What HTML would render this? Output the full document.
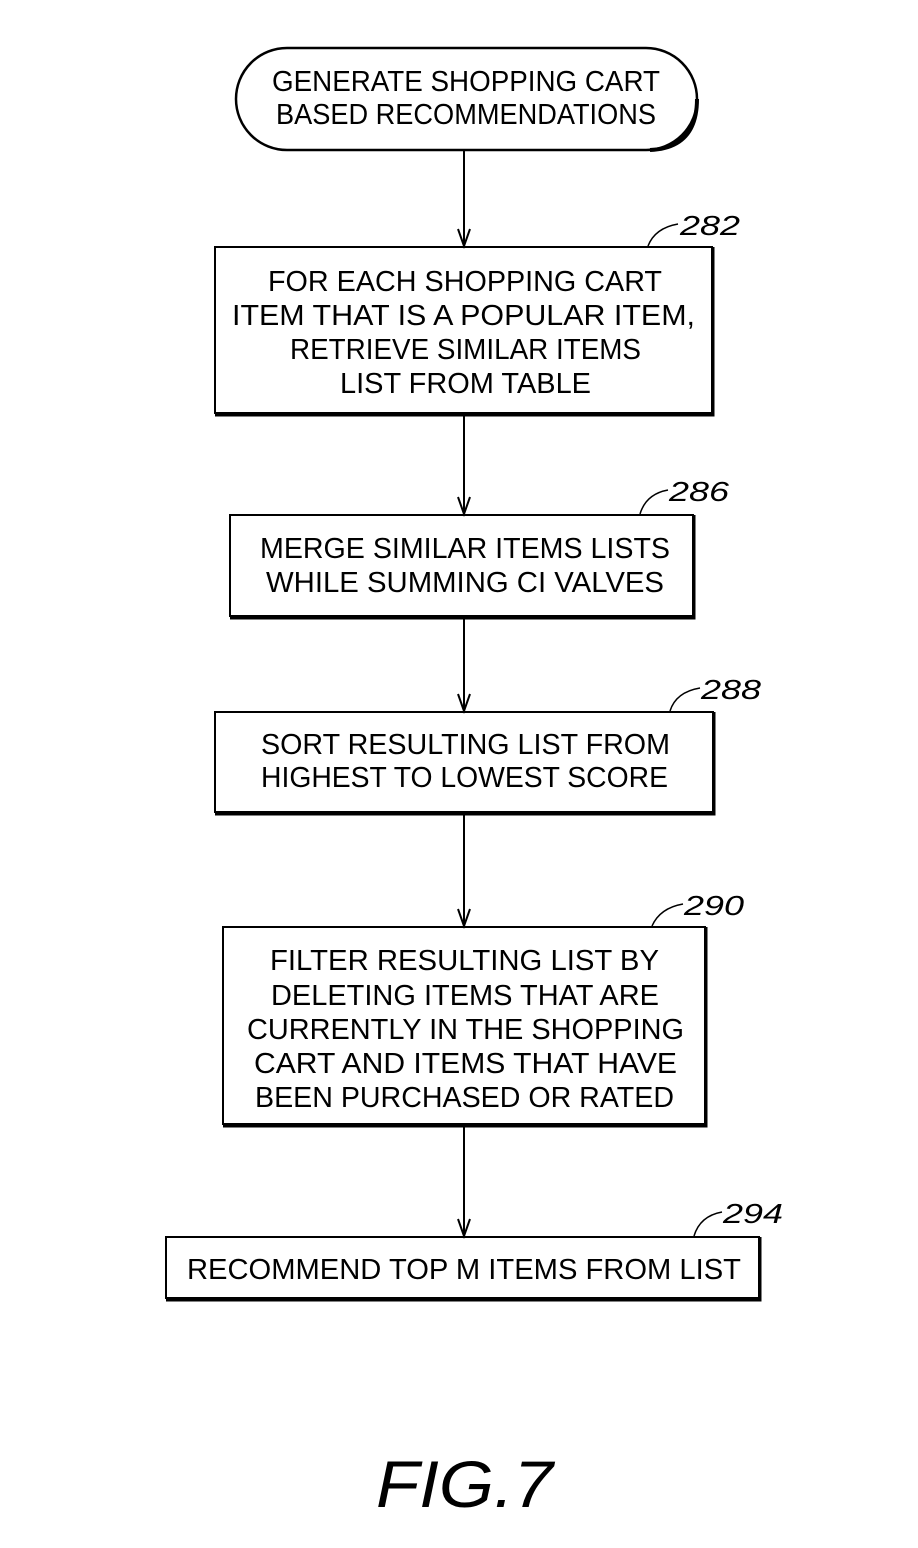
<!DOCTYPE html>
<html><head><meta charset="utf-8"><style>html,body{margin:0;padding:0;background:#fff}</style></head>
<body>
<svg width="918" height="1543" viewBox="0 0 918 1543" xmlns="http://www.w3.org/2000/svg">
<g fill="none" stroke="#000">
<rect x="236" y="48" width="461" height="102" rx="51" stroke-width="2.5"/>
<path d="M697,99 Q697,148 650,150" stroke-width="4"/>
<g stroke-width="2">
<rect x="215" y="247" width="497" height="166"/>
<rect x="230" y="515" width="463" height="101"/>
<rect x="215" y="712" width="498" height="100"/>
<rect x="223" y="927" width="482" height="197"/>
<rect x="166" y="1237" width="593" height="61"/>
</g>
<g stroke-width="3">
<path d="M713,247 V415 H215"/>
<path d="M694,515 V618 H230"/>
<path d="M714,712 V814 H215"/>
<path d="M706,927 V1126 H223"/>
<path d="M760,1237 V1300 H166"/>
</g>
<g stroke-width="2">
<line x1="464" y1="151" x2="464" y2="246"/>
<line x1="464" y1="414" x2="464" y2="514"/>
<line x1="464" y1="617" x2="464" y2="711"/>
<line x1="464" y1="813" x2="464" y2="926"/>
<line x1="464" y1="1125" x2="464" y2="1236"/>
<path d="M458,229 L464,246 L470,229"/>
<path d="M458,497 L464,514 L470,497"/>
<path d="M458,694 L464,711 L470,694"/>
<path d="M458,909 L464,926 L470,909"/>
<path d="M458,1219 L464,1236 L470,1219"/>
</g>
<g stroke-width="1.5">
<path d="M648,246 Q655,228 678,224"/>
<path d="M640,514 Q646,494 668,490"/>
<path d="M670,711 Q676,692 700,688"/>
<path d="M652,926 Q660,908 683,904"/>
<path d="M694,1236 Q700,1216 722,1212"/>
</g>
</g>
<g font-family="Liberation Sans, sans-serif" font-size="29" fill="#000">
<text x="272" y="91" textLength="388" lengthAdjust="spacingAndGlyphs">GENERATE SHOPPING CART</text>
<text x="276" y="124" textLength="380" lengthAdjust="spacingAndGlyphs">BASED RECOMMENDATIONS</text>
<text x="268" y="291" textLength="394" lengthAdjust="spacingAndGlyphs">FOR EACH SHOPPING CART</text>
<text x="232" y="325" textLength="463" lengthAdjust="spacingAndGlyphs">ITEM THAT IS A POPULAR ITEM,</text>
<text x="290" y="359" textLength="351" lengthAdjust="spacingAndGlyphs">RETRIEVE SIMILAR ITEMS</text>
<text x="340" y="393" textLength="251" lengthAdjust="spacingAndGlyphs">LIST FROM TABLE</text>
<text x="260" y="558" textLength="410" lengthAdjust="spacingAndGlyphs">MERGE SIMILAR ITEMS LISTS</text>
<text x="266" y="592" textLength="398" lengthAdjust="spacingAndGlyphs">WHILE SUMMING CI VALVES</text>
<text x="261" y="754" textLength="409" lengthAdjust="spacingAndGlyphs">SORT RESULTING LIST FROM</text>
<text x="261" y="787" textLength="407" lengthAdjust="spacingAndGlyphs">HIGHEST TO LOWEST SCORE</text>
<text x="270" y="970" textLength="389" lengthAdjust="spacingAndGlyphs">FILTER RESULTING LIST BY</text>
<text x="271" y="1005" textLength="388" lengthAdjust="spacingAndGlyphs">DELETING ITEMS THAT ARE</text>
<text x="247" y="1039" textLength="437" lengthAdjust="spacingAndGlyphs">CURRENTLY IN THE SHOPPING</text>
<text x="254" y="1073" textLength="423" lengthAdjust="spacingAndGlyphs">CART AND ITEMS THAT HAVE</text>
<text x="255" y="1107" textLength="419" lengthAdjust="spacingAndGlyphs">BEEN PURCHASED OR RATED</text>
<text x="187" y="1279" textLength="554" lengthAdjust="spacingAndGlyphs">RECOMMEND TOP M ITEMS FROM LIST</text>
</g>
<g font-family="Liberation Sans, sans-serif" font-style="italic" font-size="28" fill="#000">
<text x="680" y="235" textLength="60" lengthAdjust="spacingAndGlyphs">282</text>
<text x="669" y="501" textLength="60" lengthAdjust="spacingAndGlyphs">286</text>
<text x="701" y="699" textLength="60" lengthAdjust="spacingAndGlyphs">288</text>
<text x="684" y="915" textLength="60" lengthAdjust="spacingAndGlyphs">290</text>
<text x="723" y="1223" textLength="60" lengthAdjust="spacingAndGlyphs">294</text>
<text x="376" y="1507" font-size="66" textLength="177" lengthAdjust="spacingAndGlyphs">FIG.7</text>
</g>
</svg>
</body></html>
